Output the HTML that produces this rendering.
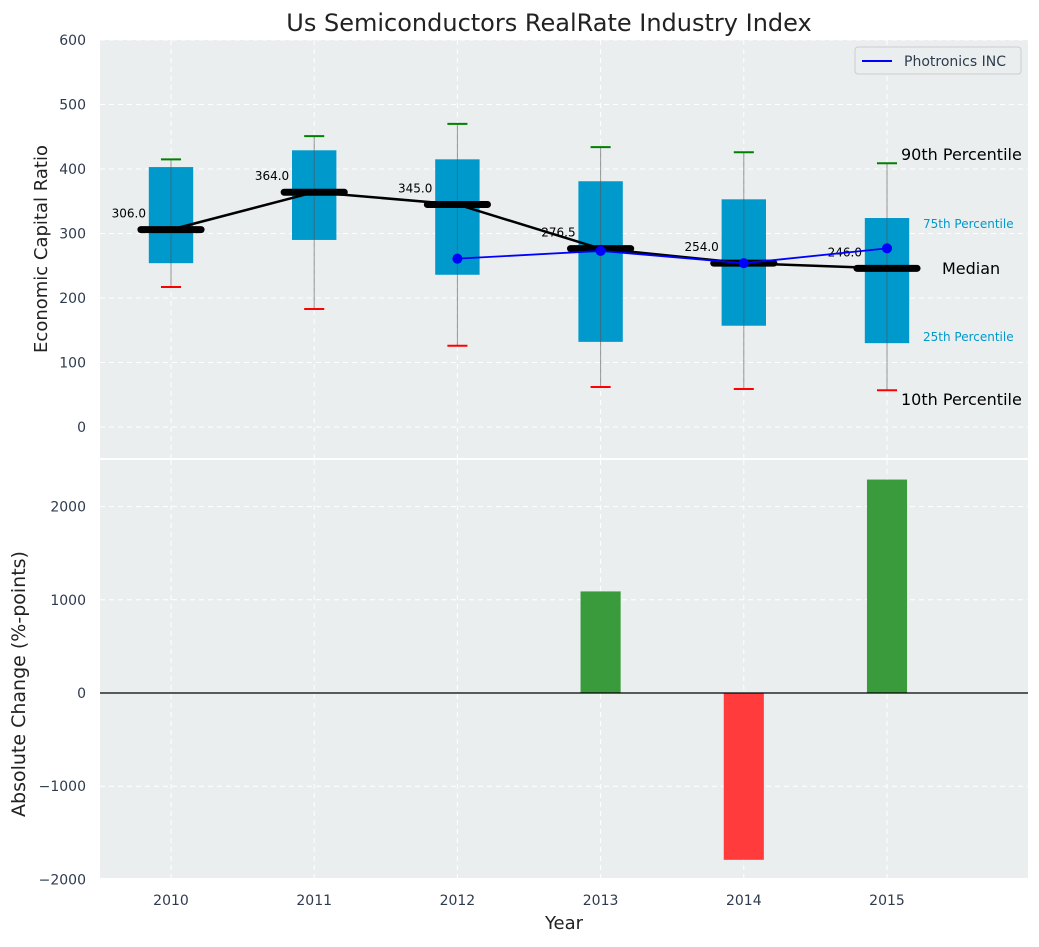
<!DOCTYPE html>
<html><head><meta charset="utf-8"><style>
body{margin:0;background:#fff;font-family:"Liberation Sans","DejaVu Sans",sans-serif;}
svg text{font-family:"DejaVu Sans","Liberation Sans",sans-serif;}
</style></head><body>
<svg id="c" width="1039" height="942" xmlns="http://www.w3.org/2000/svg"></svg>
<script>
const years=["2010","2011","2012","2013","2014","2015"];
const p10=[217,183,126,62,59,57];
const q1=[254,290,236,132,157,130];
const med=[306.0,364.0,345.0,276.5,254.0,246.0];
const q3=[403,429,415,381,353,324];
const p90=[415,451,470,434,426,409];
const company=[null,null,261,273,254,277];
const change=[0,0,0,1090,-1790,2290];
const topTicks=[0,100,200,300,400,500,600];
const botTicks=[-2000,-1000,0,1000,2000];

const NS="http://www.w3.org/2000/svg";
const svg=document.getElementById('c');
function el(t,a,p){const e=document.createElementNS(NS,t);for(const k in a)e.setAttribute(k,a[k]);(p||svg).appendChild(e);return e;}
const L=100,R=1028;
const U=143.2;
const x=i=>171+i*U;
const yT=v=>427-v*0.645;
const yB=v=>693-v*0.0932;
let e=el('rect',{x:L,y:40,width:R-L,height:418,fill:'#eaeeef'});

e=el('rect',{x:L,y:460,width:R-L,height:418,fill:'#eaeeef'});

topTicks.forEach(t=>{el('line',{x1:L,x2:R,y1:yT(t),y2:yT(t),stroke:'#fff','stroke-dasharray':'5,4','stroke-width':1});
 const tx=el('text',{x:86,y:yT(t)+5,'text-anchor':'end','font-size':14,fill:'#2e3b4e'});tx.textContent=t;
 });
botTicks.forEach(t=>{el('line',{x1:L,x2:R,y1:yB(t),y2:yB(t),stroke:'#fff','stroke-dasharray':'5,4','stroke-width':1});
 const tx=el('text',{x:86,y:yB(t)+5,'text-anchor':'end','font-size':14,fill:'#2e3b4e'});tx.textContent=(t<0?'\u2212'+(-t):t);
 });
years.forEach((y,i)=>{
 el('line',{x1:x(i),x2:x(i),y1:40,y2:458,stroke:'#fff','stroke-dasharray':'5,4'});
 el('line',{x1:x(i),x2:x(i),y1:460,y2:878,stroke:'#fff','stroke-dasharray':'5,4'});
 const tx=el('text',{x:x(i),y:905,'text-anchor':'middle','font-size':14,fill:'#2e3b4e'});tx.textContent=y;
 
});
const hw=0.155*U, mw=0.21*U, cw=0.07*U;
years.forEach((y,i)=>{
 const b=el('rect',{x:x(i)-hw,y:yT(q3[i]),width:2*hw,height:yT(q1[i])-yT(q3[i]),fill:'#0099cc'});
 
 el('line',{x1:x(i),x2:x(i),y1:yT(p90[i]),y2:yT(p10[i]),stroke:'#555','stroke-opacity':0.6,'stroke-width':1});
 el('line',{x1:x(i)-cw,x2:x(i)+cw,y1:yT(p90[i]),y2:yT(p90[i]),stroke:'green','stroke-width':2});
 el('line',{x1:x(i)-cw,x2:x(i)+cw,y1:yT(p10[i]),y2:yT(p10[i]),stroke:'red','stroke-width':2});
});
let pts=med.map((m,i)=>x(i)+','+yT(m)).join(' ');
e=el('polyline',{points:pts,fill:'none',stroke:'#000','stroke-width':2.5});

years.forEach((y,i)=>{
 el('line',{x1:x(i)-mw,x2:x(i)+mw,y1:yT(med[i]),y2:yT(med[i]),stroke:'#000','stroke-width':7,'stroke-linecap':'round'});
 const tx=el('text',{x:x(i)-25,y:yT(med[i])-12,'text-anchor':'end','font-size':12,fill:'#000'});tx.textContent=med[i].toFixed(1);
 
});
const cp=[];company.forEach((v,i)=>{if(v!==null)cp.push([x(i),yT(v)]);});
e=el('polyline',{points:cp.map(p=>p.join(',')).join(' '),fill:'none',stroke:'#0000ff','stroke-width':1.8});

cp.forEach(p=>{const c=el('circle',{cx:p[0],cy:p[1],r:5,fill:'#0000ff'});});
[['90th Percentile',901,160,16,'#000'],['75th Percentile',923,228,12,'#0099cc'],['Median',942,274,16,'#000'],['25th Percentile',923,341,12,'#0099cc'],['10th Percentile',901,405,16,'#000']].forEach(a=>{
 const tx=el('text',{x:a[1],y:a[2],'font-size':a[3],fill:a[4]});tx.textContent=a[0];
 });
const lg=el('g',{});
el('rect',{x:855,y:47,width:166,height:27,rx:3,fill:'#eaeeef',stroke:'#ccc'},lg);
el('line',{x1:862,x2:892,y1:61,y2:61,stroke:'#0000ff','stroke-width':2},lg);
let t=el('text',{x:904,y:66,'font-size':14,fill:'#2e3b4e'},lg);t.textContent='Photronics INC';
const bw=0.28*U;
change.forEach((v,i)=>{if(!v)return;
 const b=el('rect',{x:x(i)-bw/2,y:Math.min(yB(v),yB(0)),width:bw,height:Math.abs(yB(v)-yB(0)),fill:v>0?'#3a9b3c':'#ff3b3b'});
 });
el('line',{x1:L,x2:R,y1:yB(0),y2:yB(0),stroke:'#000','stroke-width':1.2});
t=el('text',{x:549,y:31,'text-anchor':'middle','font-size':24,fill:'#222'});t.textContent='Us Semiconductors RealRate Industry Index';

t=el('text',{x:0,y:0,'text-anchor':'middle','font-size':18,fill:'#222',transform:'translate(47,249) rotate(-90)'});t.textContent='Economic Capital Ratio';

t=el('text',{x:0,y:0,'text-anchor':'middle','font-size':19,fill:'#222',transform:'translate(25,684) rotate(-90)'});t.textContent='Absolute Change (%-points)';

t=el('text',{x:564,y:929,'text-anchor':'middle','font-size':18,fill:'#222'});t.textContent='Year';

</script>
</body></html>
